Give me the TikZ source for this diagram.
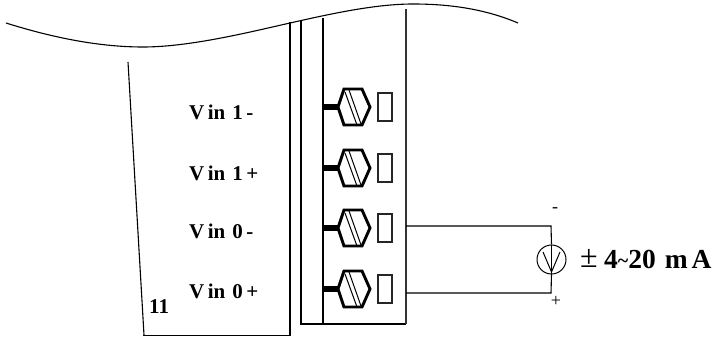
\documentclass[tikz,border=0pt]{standalone}
\usepackage{fontspec}
\setmainfont{Liberation Serif}
\tikzset{
  thin line/.style={draw=black,line width=1.1pt},
  heavy/.style={draw=black,line width=1.7pt},
  lab/.style={font=\fontsize{21}{23}\selectfont\bfseries,anchor=base west,inner sep=0pt},
  sign/.style={font=\fontsize{18}{19}\selectfont,inner sep=0pt},
}
\newcommand{\screwterm}[2]{%
  \draw[line width=6pt,draw=black] (323,#1) -- (339,#1);
  \draw[line width=2.9pt,draw=black,line join=miter] (338,#1) -- (344,#1-18) -- (362,#1-18) -- (370,#1) -- (362,#1+18) -- (344,#1+18) -- cycle;
  \draw[line width=1pt] (345,#1-15) -- (357,#1+18);
  \draw[line width=1pt] (349,#1-17) -- (361,#1+17);
  \node[draw=black!85,line width=1.2pt,minimum width=14pt,minimum height=28pt,inner sep=0pt] (#2) at (385,#1) {};
}
\begin{document}
\begin{tikzpicture}[x=1pt,y=-1pt]
\useasboundingbox (0,0) rectangle (719,337);
\fill[white] (0,0) rectangle (719,337);
\draw[thin line] (6,23) .. controls (60,40) and (105,47) .. (143,47) .. controls (190,47) and (250,32) .. (290,23) .. controls (330,14) and (375,4) .. (413,4) .. controls (450,4) and (485,9) .. (518,23);
\draw[thin line] (128,62) -- (144,335);
\draw[heavy] (143,335.5) -- (290,335.5);
\draw[thin line,line width=1.3pt] (290,336) -- (290,22);
\draw[thin line,line width=1.4pt] (301,21) -- (301,324) -- (406,324);
\draw[thin line,draw=black!80] (406,324) -- (406,9);
\draw[heavy] (323,18) -- (323,324);
\screwterm{107}{ta}
\screwterm{168}{tb}
\screwterm{228}{tc}
\screwterm{289}{td}
\node[lab] (v1m) at (189,119) {V\,in\,\,1\,-};
\node[lab] (v1p) at (189,180) {V\,in\,\,1\,+};
\node[lab] (v0m) at (189,238) {V\,in\,\,0\,-};
\node[lab] (v0p) at (189,298) {V\,in\,\,0\,+};
\node[lab] (eleven) at (149,313) {11};
\coordinate (p) at (551,226);
\coordinate (q) at (551,293);
\coordinate (a) at (406,226);
\coordinate (b) at (406,293);
\node[circle,draw=black,line width=1pt,minimum size=29pt,inner sep=0pt] (src) at (551.5,259.5) {};
\draw[thin line] (a) -- (p) -- (src.north);
\draw[thin line] (b) -- (q) -- (src.south);
\draw[line width=1pt] (src.north) -- (src.south);
\draw[line width=1pt] (543,252) -- (551.5,272) -- (560,252);
\node[sign] (mns) at (555,210) {-};
\node[sign] (pls) at (556,301) {+};
\node[font=\fontsize{32}{34}\selectfont,inner sep=0pt] (pm) at (589,258) {±};
\node[font=\fontsize{27.5}{29}\selectfont\bfseries,anchor=base west,inner sep=0pt] (ma) at (604,268) {4\raisebox{1pt}{\fontsize{20}{20}\selectfont\textasciitilde}20\kern 9pt m\kern 4pt A};
\end{tikzpicture}
\end{document}
